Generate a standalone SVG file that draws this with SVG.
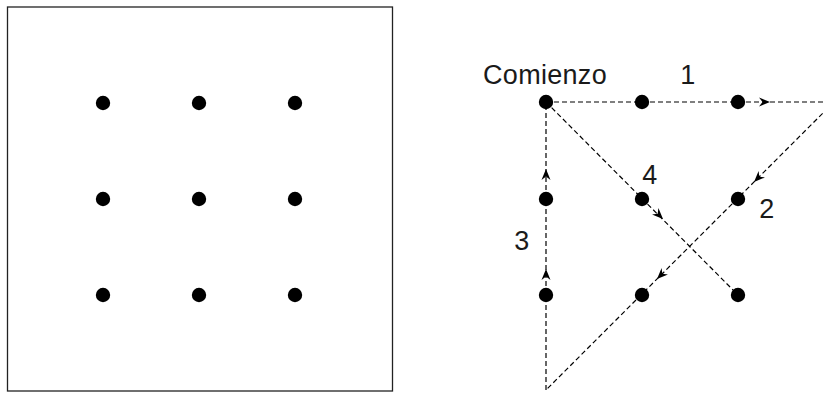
<svg xmlns="http://www.w3.org/2000/svg" xmlns:xlink="http://www.w3.org/1999/xlink" width="823" height="393" viewBox="0 0 823 393">
  <style>
    .frame { fill: #fff; stroke: #222; stroke-width: 1.3; }
    .dot { fill: #000; }
    .path { fill: none; stroke: #000; stroke-width: 1.2; stroke-dasharray: 5 3; }
    .label { font-family: "Liberation Sans", Arial, sans-serif; font-size: 27px; fill: #1a1a1a; letter-spacing: 0.3px; }
  </style>
  <defs>
    <circle id="pt" r="7.2" class="dot"/>
    <!-- barbed arrowhead, tip at origin pointing along +x -->
    <path id="head" d="M0,0 L-11,-4.5 L-7.5,0 L-11,4.5 Z" fill="#000"/>
  </defs>

  <rect width="823" height="393" fill="#fff"/>

  <!-- puzzle: 3x3 dots in a square frame -->
  <g id="puzzle">
    <rect class="frame" x="7.5" y="7" width="385" height="384"/>
    <use xlink:href="#pt" x="103" y="103"/>
    <use xlink:href="#pt" x="199" y="103"/>
    <use xlink:href="#pt" x="295" y="103"/>
    <use xlink:href="#pt" x="103" y="199"/>
    <use xlink:href="#pt" x="199" y="199"/>
    <use xlink:href="#pt" x="295" y="199"/>
    <use xlink:href="#pt" x="103" y="295"/>
    <use xlink:href="#pt" x="199" y="295"/>
    <use xlink:href="#pt" x="295" y="295"/>
  </g>

  <!-- solution: four straight strokes through all nine dots -->
  <g id="connectors">
    <line class="path" x1="546" y1="102" x2="836" y2="102"/>
    <line class="path" x1="834" y1="102" x2="546" y2="390"/>
    <line class="path" x1="546" y1="390" x2="546" y2="102"/>
    <line class="path" x1="546" y1="102" x2="738" y2="295"/>
    <use xlink:href="#head" transform="translate(770,102)"/>
    <use xlink:href="#head" transform="translate(754,182) rotate(135)"/>
    <use xlink:href="#head" transform="translate(657,279) rotate(135)"/>
    <use xlink:href="#head" transform="translate(546,269) rotate(-90)"/>
    <use xlink:href="#head" transform="translate(546,169) rotate(-90)"/>
    <use xlink:href="#head" transform="translate(663,219) rotate(45)"/>
  </g>

  <g id="solution-dots">
    <use xlink:href="#pt" x="546" y="102"/>
    <use xlink:href="#pt" x="642" y="102"/>
    <use xlink:href="#pt" x="738" y="102"/>
    <use xlink:href="#pt" x="546" y="199"/>
    <use xlink:href="#pt" x="642" y="199"/>
    <use xlink:href="#pt" x="738" y="199"/>
    <use xlink:href="#pt" x="546" y="295"/>
    <use xlink:href="#pt" x="642" y="295"/>
    <use xlink:href="#pt" x="738" y="295"/>
  </g>

  <g id="labels">
    <text class="label" x="545" y="84" text-anchor="middle">Comienzo</text>
    <text class="label" x="688" y="84" text-anchor="middle">1</text>
    <text class="label" x="767" y="218" text-anchor="middle">2</text>
    <text class="label" x="522" y="250" text-anchor="middle">3</text>
    <text class="label" x="650" y="184" text-anchor="middle">4</text>
  </g>
</svg>
